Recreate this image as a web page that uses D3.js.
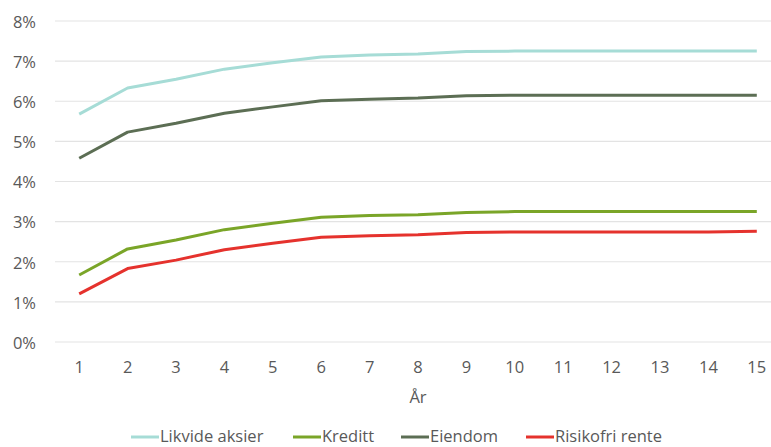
<!DOCTYPE html>
<html>
<head>
<meta charset="utf-8">
<script src="https://cdn.jsdelivr.net/npm/d3@7"></script>
<style>
  html, body { margin: 0; padding: 0; background: #fff; }
  svg { display: block; font-family: "Open Sans", Lato, sans-serif; }
</style>
</head>
<body>
<svg id="chart" width="771" height="447"></svg>
<script>
// Years on the horizontal axis
const years = [1, 2, 3, 4, 5, 6, 7, 8, 9, 10, 11, 12, 13, 14, 15];

// Expected return per asset class (percent)
const likvideAksier = [5.68, 6.33, 6.55, 6.80, 6.96, 7.10, 7.15, 7.18, 7.24, 7.25, 7.25, 7.25, 7.25, 7.25, 7.25];
const kreditt       = [1.67, 2.32, 2.54, 2.80, 2.96, 3.11, 3.15, 3.17, 3.23, 3.25, 3.25, 3.25, 3.25, 3.25, 3.25];
const eiendom       = [4.58, 5.23, 5.45, 5.70, 5.86, 6.01, 6.05, 6.08, 6.14, 6.15, 6.15, 6.15, 6.15, 6.15, 6.15];
const risikofri     = [1.20, 1.83, 2.04, 2.30, 2.46, 2.61, 2.65, 2.67, 2.73, 2.74, 2.74, 2.74, 2.74, 2.74, 2.76];

const yTicks = [0, 1, 2, 3, 4, 5, 6, 7, 8];

const seriesNames  = ["Likvide aksier", "Kreditt", "Eiendom", "Risikofri rente"];
const seriesValues = [likvideAksier, kreditt, eiendom, risikofri];
const seriesColors = ["#a6dcd6", "#7aa528", "#5c6e54", "#e5322d"];

const svg = d3.select("#chart");
const textColor = "#595959";
const font = "'Open Sans', Lato, sans-serif";
const fontSize = "16.5px";

const x = d3.scaleBand().domain(years).range([55, 781]);
const y = d3.scaleLinear().domain([0, 8]).range([342, 21]);
const cx = d => x(d) + x.bandwidth() / 2;

// Horizontal gridlines
svg.append("g")
  .selectAll("line")
  .data(yTicks)
  .join("line")
  .attr("x1", 55).attr("x2", 771)
  .attr("y1", d => y(d)).attr("y2", d => y(d))
  .attr("stroke", "#e3e3e3").attr("stroke-width", 1.2);

// Y axis labels
const yAxis = d3.axisLeft(y).tickValues(yTicks).tickFormat(d => d + "%").tickSize(0).tickPadding(0);
svg.append("g")
  .attr("transform", "translate(36,1)")
  .call(yAxis)
  .call(g => g.select(".domain").remove())
  .call(g => g.selectAll("text")
    .attr("fill", textColor)
    .style("font-size", fontSize)
    .style("font-family", font));

// X axis labels
const xAxis = d3.axisBottom(x).tickSize(0).tickPadding(0);
svg.append("g")
  .attr("transform", "translate(0,361)")
  .call(xAxis)
  .call(g => g.select(".domain").remove())
  .call(g => g.selectAll("text")
    .attr("fill", textColor)
    .style("font-size", fontSize)
    .style("font-family", font));

// Axis title
svg.append("text")
  .attr("x", 418).attr("y", 403)
  .attr("text-anchor", "middle")
  .attr("fill", textColor)
  .style("font-size", fontSize)
  .text("År");

// Lines
const line = d3.line()
  .x((d, i) => cx(years[i]))
  .y(d => y(d));

svg.append("g")
  .selectAll("path")
  .data(seriesValues)
  .join("path")
  .attr("d", d => line(d))
  .attr("fill", "none")
  .attr("stroke", (d, i) => seriesColors[i])
  .attr("stroke-width", 3)
  .attr("stroke-linejoin", "round");

// Legend
const legendX = [131, 293, 401, 526];
const legend = svg.append("g")
  .selectAll("g")
  .data(seriesNames)
  .join("g")
  .attr("transform", (d, i) => `translate(${legendX[i]},437)`);

legend.append("line")
  .attr("x1", 0).attr("x2", 28)
  .attr("stroke", (d, i) => seriesColors[i])
  .attr("stroke-width", 3);

legend.append("text")
  .attr("x", 29).attr("y", 5)
  .attr("fill", textColor)
  .style("font-size", fontSize)
  .text(d => d);
</script>
</body>
</html>
